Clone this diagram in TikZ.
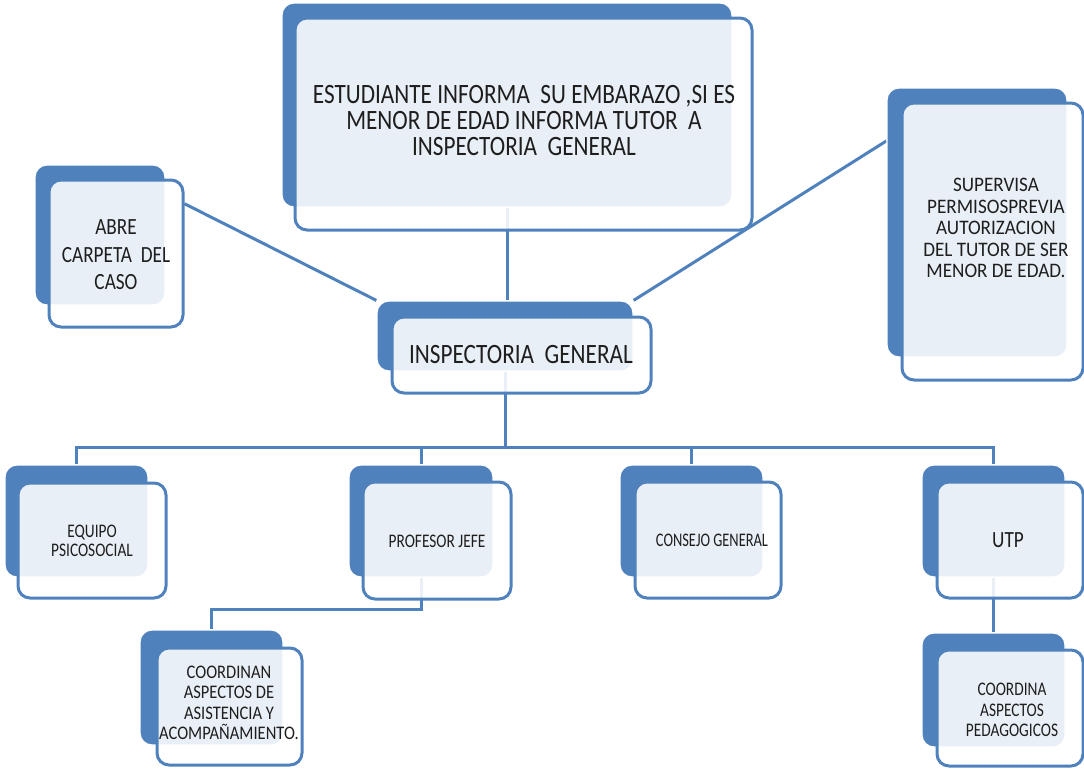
\documentclass[tikz,border=0pt]{standalone}
\usepackage{fontspec}
\setmainfont{Carlito}
\newfontfamily\fbig[FakeStretch=0.83]{Carlito}
\newfontfamily\fsup[FakeStretch=0.93]{Carlito}
\newfontfamily\fsmall[FakeStretch=0.80]{Carlito}
\newfontfamily\fcoon[FakeStretch=0.86]{Carlito}
\newfontfamily\fcons[FakeStretch=0.75]{Carlito}
\usetikzlibrary{fit}
\pgfdeclarelayer{background}
\pgfsetlayers{background,main}
\definecolor{ofblue}{HTML}{4F81BD}
\definecolor{txt}{HTML}{1E1E1E}
\tikzset{
  backbox/.style={fit={#1}, inner sep=0pt, rectangle, rounded corners=6pt, fill=ofblue, draw=white, line width=0.6pt},
  frontbox/.style={fit={#1}, inner sep=0pt, rectangle, rounded corners=6pt, fill=white, fill opacity=0.88, draw=ofblue, line width=1.5pt},
  lbl/.style={align=center, text=txt, inner sep=0pt},
  conn/.style={draw=ofblue, line width=1.5pt},
}
\begin{document}
\begin{tikzpicture}[x=0.5pt,y=-0.5pt]
\useasboundingbox (0,0) rectangle (1084,768);
% back boxes
\node[backbox={(282,3) (732,207)}] (estB) {};
\node[backbox={(35,165) (165,305)}] (abreB) {};
\node[backbox={(887,88) (1067,357)}] (supB) {};
\node[backbox={(377,301) (633,371)}] (inspB) {};
\node[backbox={(5,465) (148,577)}] (equB) {};
\node[backbox={(349,465) (493,577)}] (profB) {};
\node[backbox={(620,465) (763,577)}] (consB) {};
\node[backbox={(922,465) (1065,577)}] (utpB) {};
\node[backbox={(140,630) (283,745)}] (coonB) {};
\node[backbox={(922,633) (1065,747)}] (cooaB) {};
% front boxes
\node[frontbox={(295,18) (752,230)}] (estF) {};
\node[frontbox={(49,180) (183,327)}] (abreF) {};
\node[frontbox={(902,103) (1083,380)}] (supF) {};
\node[frontbox={(392,317) (651,393)}] (inspF) {};
\node[frontbox={(18,483) (166,598)}] (equF) {};
\node[frontbox={(363,482) (511,599)}] (profF) {};
\node[frontbox={(635,482) (781,598)}] (consF) {};
\node[frontbox={(937,482) (1083,598)}] (utpF) {};
\node[frontbox={(157,648) (302,765)}] (coonF) {};
\node[frontbox={(937,650) (1083,766)}] (cooaF) {};
% texts
\node[lbl, font=\fbig\fontsize{14}{13}\selectfont] (est) at (524,121)
  {ESTUDIANTE INFORMA\ \ SU EMBARAZO ,SI ES\\MENOR DE EDAD INFORMA TUTOR\ \ A\\INSPECTORIA\ \ GENERAL};
\node[lbl, font=\fbig\fontsize{11.6}{13.8}\selectfont] (abre) at (116,255)
  {ABRE\\CARPETA\ \ DEL\\CASO};
\node[lbl, font=\fsup\fontsize{10.3}{10.7}\selectfont] (sup) at (996,228)
  {SUPERVISA\\PERMISOSPREVIA\\AUTORIZACION\\DEL TUTOR DE SER\\MENOR DE EDAD.};
\node[lbl, font=\fbig\fontsize{14}{14}\selectfont] (insp) at (521,354) {INSPECTORIA\ \ GENERAL};
\node[lbl, font=\fsmall\fontsize{9.6}{9.8}\selectfont] (equ) at (92,541) {EQUIPO\\PSICOSOCIAL};
\node[lbl, font=\fsmall\fontsize{9.6}{9.8}\selectfont] (prof) at (437,541) {PROFESOR JEFE};
\node[lbl, font=\fcons\fontsize{9.6}{9.8}\selectfont] (cons) at (712,540) {CONSEJO GENERAL};
\node[lbl, font=\fbig\fontsize{11.6}{12}\selectfont] (utp) at (1008,540) {UTP};
\node[lbl, font=\fcoon\fontsize{9.6}{10.2}\selectfont] (coon) at (229,703)
  {COORDINAN\\ASPECTOS DE\\ASISTENCIA Y\\ACOMPAÑAMIENTO.};
\node[lbl, font=\fsmall\fontsize{9.6}{10.2}\selectfont] (cooa) at (1012,710)
  {COORDINA\\ASPECTOS\\PEDAGOGICOS};
% connectors
\begin{pgfonlayer}{background}
\coordinate (bus) at (505,447);
\draw[conn] (estB.south) -- (estB.south |- inspB.north);
\draw[conn] (abreF.36) -- (inspB.north west);
\draw[conn] (supB.138) -- (inspB.north east);
\draw[conn] (inspB.south) -- (inspB.south |- bus);
\draw[conn] (equB.north) -- (equB.north |- bus) -- (utpB.north |- bus) -- (utpB.north);
\draw[conn] (profB.north) -- (profB.north |- bus);
\draw[conn] (consB.north) -- (consB.north |- bus);
\draw[conn] (profB.south) -- ++(0,32) -| (coonB.north);
\draw[conn] (utpB.south) -- (cooaB.north);
\end{pgfonlayer}
\end{tikzpicture}
\end{document}
